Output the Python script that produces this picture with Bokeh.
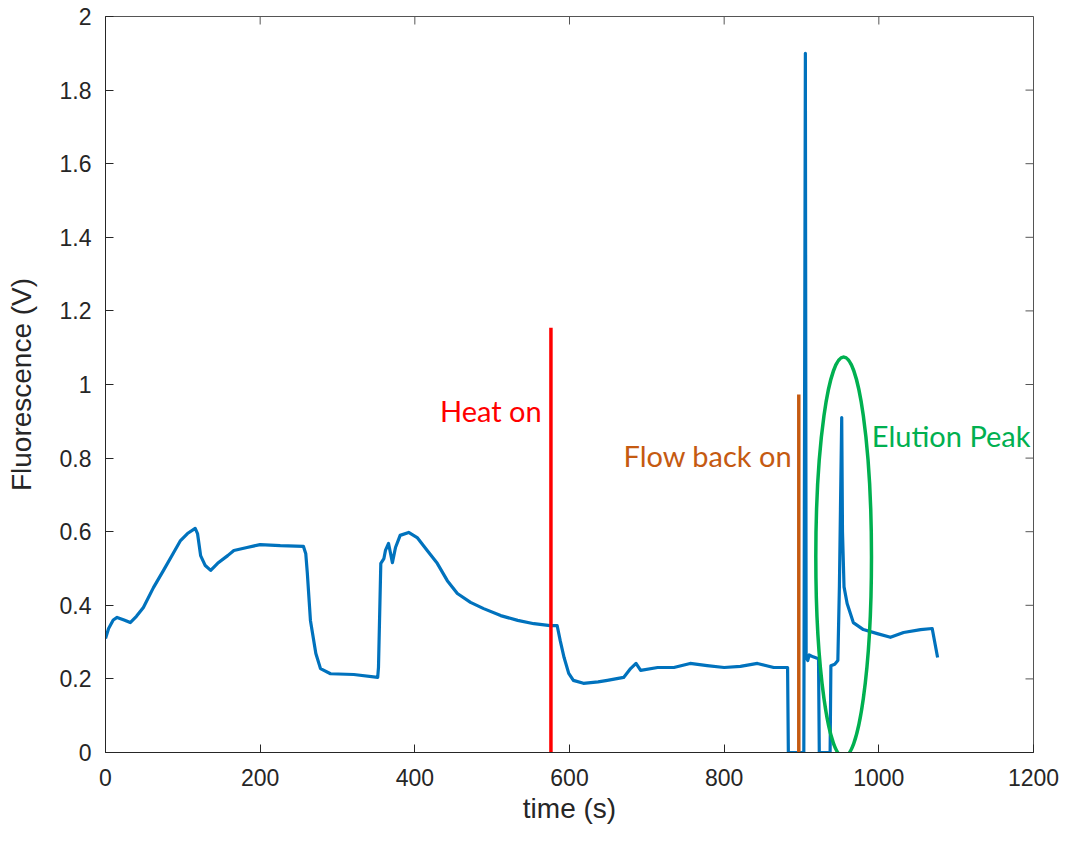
from bokeh.plotting import figure
from bokeh.models import Range1d, FixedTicker, CustomJSTickFormatter, Label
from bokeh.embed import file_html
from bokeh.resources import INLINE

# ---- data ----
time_s = [0, 4, 10, 15, 24, 32, 40, 49, 62, 75, 88, 97, 106, 116, 119, 123, 129, 136, 145, 158,
          166, 183, 200, 226, 256, 259, 261, 265, 272, 278, 291, 321, 352, 353, 356, 360, 362, 366,
          371, 375, 381, 392, 403, 416, 429, 442, 455, 472, 489, 511, 533, 554, 575, 584, 588, 593,
          599, 605, 618, 637, 649, 670, 679, 686, 692, 714, 735, 756, 778, 800, 821, 843, 864, 882,
          883, 903, 905, 906, 908, 910, 915, 922, 923, 937, 938, 943, 947, 949, 952, 953, 955, 959,
          967, 980, 998, 1015, 1032, 1054, 1069, 1076]
fluor_v = [0.31, 0.337, 0.36, 0.367, 0.36, 0.353, 0.37, 0.394, 0.448, 0.495, 0.543, 0.576, 0.595,
           0.609, 0.595, 0.535, 0.508, 0.495, 0.514, 0.535, 0.549, 0.557, 0.565, 0.562, 0.56, 0.54,
           0.487, 0.359, 0.269, 0.228, 0.214, 0.212, 0.204, 0.231, 0.514, 0.527, 0.549, 0.568, 0.516,
           0.557, 0.59, 0.598, 0.584, 0.549, 0.514, 0.467, 0.432, 0.408, 0.391, 0.372, 0.359, 0.35,
           0.345, 0.345, 0.304, 0.258, 0.215, 0.196, 0.188, 0.192, 0.196, 0.204, 0.228, 0.242, 0.223,
           0.231, 0.231, 0.242, 0.236, 0.231, 0.234, 0.242, 0.231, 0.231, 0.0, 0.0, 1.90, 0.26, 0.25,
           0.265, 0.26, 0.255, 0.0, 0.0, 0.236, 0.24, 0.25, 0.45, 0.91, 0.6, 0.45, 0.405, 0.353, 0.334,
           0.323, 0.313, 0.326, 0.334, 0.337, 0.258]

heat_on_t = 576
heat_on_top = 1.154
flow_on_t = 896.5
flow_on_top = 0.973
ellipse_center = (954.5, 0.531)
ellipse_size = (72, 1.087)

x_ticks = [0, 200, 400, 600, 800, 1000, 1200]
y_ticks = [0, 0.2, 0.4, 0.6, 0.8, 1.0, 1.2, 1.4, 1.6, 1.8, 2.0]
X_MIN, X_MAX, Y_MIN, Y_MAX = 0, 1200, 0, 2

AX = "#262626"
BOX = "#555555"
TICK_FONT = "Liberation Sans"

p = figure(width=1068, height=843, output_backend="svg", toolbar_location=None,
           x_range=Range1d(X_MIN, X_MAX), y_range=Range1d(Y_MIN, Y_MAX),
           min_border_left=105, min_border_right=35, min_border_top=16, min_border_bottom=91)
p.grid.visible = False
p.outline_line_color = BOX
p.outline_line_width = 1
p.background_fill_color = "white"
p.border_fill_color = "white"

fmt = CustomJSTickFormatter(code="return String(Math.round(tick*10)/10)")

for ax, ticks in ((p.xaxis[0], x_ticks), (p.yaxis[0], y_ticks)):
    ax.ticker = FixedTicker(ticks=ticks)
    ax.formatter = fmt
    ax.axis_line_color = AX
    ax.major_tick_line_color = AX
    ax.major_tick_in = 8
    ax.major_tick_out = 0
    ax.minor_tick_line_color = None
    ax.major_label_text_color = AX
    ax.major_label_text_font = TICK_FONT
    ax.major_label_text_font_size = "23px"
    ax.axis_label_text_font = TICK_FONT
    ax.axis_label_text_font_style = "normal"
    ax.axis_label_text_color = AX
    ax.axis_label_text_font_size = "28px"

p.xaxis.axis_label = "time (s)"
p.yaxis.axis_label = "Fluorescence (V)"
p.xaxis.major_label_standoff = 16
p.xaxis.axis_label_standoff = 4
p.yaxis.major_label_standoff = 14
p.yaxis.axis_label_standoff = 20

# inward ticks on the top and right edges of the box (8 px long)
tick_dx = 8 / (928 / (X_MAX - X_MIN))
tick_dy = 8 / (736 / (Y_MAX - Y_MIN))
p.segment(x0=x_ticks, y0=[Y_MAX] * len(x_ticks), x1=x_ticks, y1=[Y_MAX - tick_dy] * len(x_ticks),
          line_color=BOX, line_width=1)
p.segment(x0=[X_MAX] * len(y_ticks), y0=y_ticks, x1=[X_MAX - tick_dx] * len(y_ticks), y1=y_ticks,
          line_color=BOX, line_width=1)

# data line
p.line(time_s, fluor_v, line_color="#0072BD", line_width=3.2, line_join="round")

# event markers
p.line([heat_on_t, heat_on_t], [0, heat_on_top], line_color="#FF0000", line_width=3.5)
p.line([flow_on_t, flow_on_t], [0, flow_on_top], line_color="#C55A11", line_width=3.5)
p.ellipse(x=[ellipse_center[0]], y=[ellipse_center[1]], width=[ellipse_size[0]],
          height=[ellipse_size[1]], fill_color=None, line_color="#00B050", line_width=3.5)

ann_font = "Lato"
p.add_layout(Label(x=564, y=0.93, text="Heat on", text_align="right", text_baseline="alphabetic",
                   text_color="#FF0000", text_font=ann_font, text_font_size="29px"))
p.add_layout(Label(x=888, y=0.806, text="Flow back on", text_align="right", text_baseline="alphabetic",
                   text_color="#C55A11", text_font=ann_font, text_font_size="29px"))
p.add_layout(Label(x=991, y=0.862, text="Elution Peak", text_align="left", text_baseline="alphabetic",
                   text_color="#00B050", text_font=ann_font, text_font_size="29px"))

open("out.html", "w").write(file_html(p, INLINE))
